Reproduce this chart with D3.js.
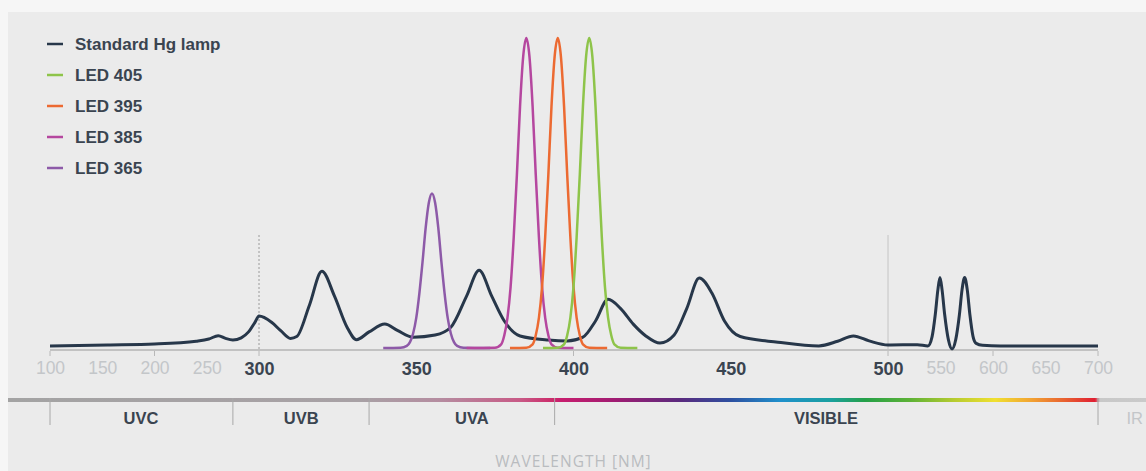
<!DOCTYPE html>
<html>
<head>
<meta charset="utf-8">
<script src="https://cdn.jsdelivr.net/npm/d3@7"></script>
<style>
  html, body { margin: 0; padding: 0; background: #f6f6f6; }
  svg { display: block; }
</style>
</head>
<body>
<svg id="chart" width="1146" height="471"></svg>
<script>
// ---------------- DATA ----------------
const seriesNames = ["Standard Hg lamp", "LED 405", "LED 395", "LED 385", "LED 365"];
const seriesColors = ["#27374a", "#8ec44a", "#ec6a32", "#b5479f", "#8d5aa8"];

// [wavelength nm, relative intensity]
const hgLamp = [
  [100,1.0],[155,1.3],[200,1.6],[240,2.5],[252,3.2],[261,4.3],[268,3.4],[275,2.9],[283,3.6],
  [290,5.5],[296,8.5],[300,10.6],[304,8.6],[307,5.8],[310,3.4],[312,4.0],[316,14],[320,25],
  [324,17],[328,7],[331,3.0],[335,5.5],[340,8.0],[344,6.0],[349,3.8],[356,4.5],[361,7],
  [366,17],[370,25.3],[374,17],[378,9],[383,4.2],[392,2.9],[398,2.6],[403,3.8],[407,9],
  [411,16],[415,13],[419,8],[423,4.2],[427.5,1.9],[432,4.5],[436,13],[440,22.8],[444,18],
  [448,9],[453,4.0],[465,2.2],[478,1.0],[484,2.5],[489,4.2],[494,2.6],[500,1.3],[528,1.4],
  [538,1.0],[542,4],[545,11],[547.5,19],[549.5,23],[551.5,19],[554,11],[557.5,3],[561,0],
  [564.5,3],[568,11],[570.5,19],[573,23],[575.5,19],[578,11],[581,4],[584,1.8],[590,1.2],
  [607,1.0],[700,1.0]
];
const led405 = [
  [390.3,0.3],[395,0.4],[397,1.5],[398,4.4],[399,10],[400,20],[401,36],[402,56],[403,78],
  [404,94],[405,100],[406,94],[407,78],[408,56],[409,36],[410,20],[411,10],[412,4.4],
  [413,1.5],[415,0.4],[420.3,0.3]
];
const led395 = [
  [379.8,0.3],[385,0.4],[387,1.5],[388,4.4],[389,10],[390,20],[391,36],[392,56],[393,78],
  [394,94],[395,100],[396,94],[397,78],[398,56],[399,36],[400,20],[401,10],[402,4.4],
  [403,1.5],[405,0.4],[410.7,0.3]
];
const led385 = [
  [366,0.3],[375,0.4],[377,1.5],[378,4.4],[379,10],[380,20],[381,36],[382,56],[383,78],
  [384,94],[385,100],[386,94],[387,78],[388,56],[389,36],[390,20],[391,10],[392,4.4],
  [393,1.5],[395,0.4],[400,0.3]
];
const led365 = [
  [339.5,0.3],[345,0.4],[347,1.0],[348,2.2],[349,5],[350,10],[351,18],[352,28],[353,39],
  [354,47],[355,50],[356,47],[357,39],[358,28],[359,18],[360,10],[361,5],[362,2.2],
  [363,1.0],[365,0.4],[373.5,0.3]
];

const tickLabels = [100,150,200,250,300,350,400,450,500,550,600,650,700];
const strongTicks = [300,350,400,450,500];
const tickMarks = [100,200,300,400,500,600,700];
const guideLines = [300,500];

const bandBounds = [100, 275, 335, 394, 700];
const bandNames = ["UVC","UVB","UVA","VISIBLE","IR"];
const bandLabelAt = [187, 313.4, 367.7, 480.3, 735];
const axisTitle = "WAVELENGTH [NM]";

// ---------------- SCALES ----------------
const svg = d3.select("#chart");
const W = 1146, H = 471;

const x = d3.scaleLinear().domain([100,300,500,700]).range([50,259,888,1098]);
const y = d3.scaleLinear().domain([0,100]).range([349,38]);

// background
svg.append("rect").attr("x",8).attr("y",12).attr("width",W-8).attr("height",H-12).attr("fill","#ebebeb");

// guide lines
svg.selectAll(".guide").data(guideLines).enter().append("line")
  .attr("x1",d=>x(d)).attr("x2",d=>x(d)).attr("y1",235).attr("y2",y(0))
  .attr("stroke",d=>d===300?"#9a9a9a":"#c4c4c4")
  .attr("stroke-width",1)
  .attr("stroke-dasharray",d=>d===300?"2,2":null);

// axis baseline
svg.append("line").attr("x1",x(100)).attr("x2",x(700)).attr("y1",350).attr("y2",350)
  .attr("stroke","#b4b4b4").attr("stroke-width",1.5);

// minor ticks
svg.selectAll(".tm").data(tickMarks).enter().append("line")
  .attr("x1",d=>x(d)).attr("x2",d=>x(d)).attr("y1",351).attr("y2",356)
  .attr("stroke","#b8b8b8").attr("stroke-width",1);

// axis labels via d3 axis
const axisG = svg.append("g").attr("transform","translate(0,362)")
  .call(d3.axisBottom(x).tickValues(tickLabels).tickSize(0).tickPadding(0).tickFormat(d3.format("d")));
axisG.select(".domain").remove();
axisG.selectAll("text")
  .attr("dy","0.71em")
  .style("font-family","'Liberation Sans', Arial, sans-serif")
  .style("font-size",d=>strongTicks.includes(d)?"18px":"17.5px")
  .style("font-weight",d=>strongTicks.includes(d)?"bold":"normal")
  .attr("fill",d=>strongTicks.includes(d)?"#3a4450":"#c3c6c9");

// spectrum band
const grad = svg.append("defs").append("linearGradient").attr("id","spec")
  .attr("gradientUnits","userSpaceOnUse").attr("x1",0).attr("x2",W).attr("y1",0).attr("y2",0);
const stops = [
  [0,"#a3a3a3"],[360,"#a8a1a5"],[440,"#b58ca0"],[520,"#c85a86"],[553,"#cc2a6a"],[560,"#c81e6e"],
  [615,"#a01c72"],[680,"#5a2a7e"],[730,"#2e4fa0"],[780,"#1f90cc"],[830,"#1aa0a0"],[865,"#24a048"],
  [910,"#5db236"],[955,"#b8cc30"],[995,"#f0e030"],[1030,"#f2a532"],[1065,"#e86030"],[1095,"#e01e32"],
  [1100,"#c8c8c8"],[1146,"#cacaca"]
];
grad.selectAll("stop").data(stops).enter().append("stop")
  .attr("offset",d=>d[0]/W).attr("stop-color",d=>d[1]);
svg.append("rect").attr("x",8).attr("y",398).attr("width",W-8).attr("height",4).attr("fill","url(#spec)");

svg.selectAll(".bb").data(bandBounds).enter().append("line")
  .attr("x1",d=>x(d)).attr("x2",d=>x(d)).attr("y1",398).attr("y2",425)
  .attr("stroke","#a8a8a8").attr("stroke-width",1);

svg.selectAll(".bl").data(bandNames).enter().append("text")
  .attr("x",(d,i)=>x(bandLabelAt[i])).attr("y",424)
  .attr("text-anchor","middle")
  .style("font-family","'Liberation Sans', Arial, sans-serif")
  .style("font-size","16.5px")
  .attr("fill",d=>d==="IR"?"#c3c6c9":"#3a4450")
  .style("font-weight",d=>d==="IR"?"normal":"bold")
  .text(d=>d);

svg.append("text").attr("x",x(400)).attr("y",467).attr("text-anchor","middle")
  .style("font-family","'Open Sans', 'Liberation Sans', sans-serif")
  .style("font-size","15.5px").style("letter-spacing","1px")
  .attr("fill","#b9bcbf").text(axisTitle);

// ---------------- LINES ----------------
const line = d3.line().x(d=>x(d[0])).y(d=>y(d[1])).curve(d3.curveMonotoneX);
const seriesData = [hgLamp, led405, led395, led385, led365];
const drawOrder = [0,4,3,2,1];
svg.selectAll(".series").data(drawOrder).enter().append("path")
  .attr("d",i=>line(seriesData[i]))
  .attr("fill","none")
  .attr("stroke",i=>seriesColors[i])
  .attr("stroke-width",i=>i===0?3:2.5)
  .attr("stroke-linejoin","round");

// ---------------- LEGEND ----------------
const leg = svg.selectAll(".leg").data(seriesNames).enter().append("g")
  .attr("transform",(d,i)=>`translate(47,${44 + i*31})`);
leg.append("line").attr("x1",0).attr("x2",16).attr("y1",0).attr("y2",0)
  .attr("stroke",(d,i)=>seriesColors[i]).attr("stroke-width",2.5);
leg.append("text").attr("x",28).attr("y",0).attr("dy","0.35em")
  .style("font-family","'Liberation Sans', Arial, sans-serif")
  .style("font-size","17px").style("font-weight","bold")
  .attr("fill","#3a4450")
  .text(d=>d);
</script>
</body>
</html>
